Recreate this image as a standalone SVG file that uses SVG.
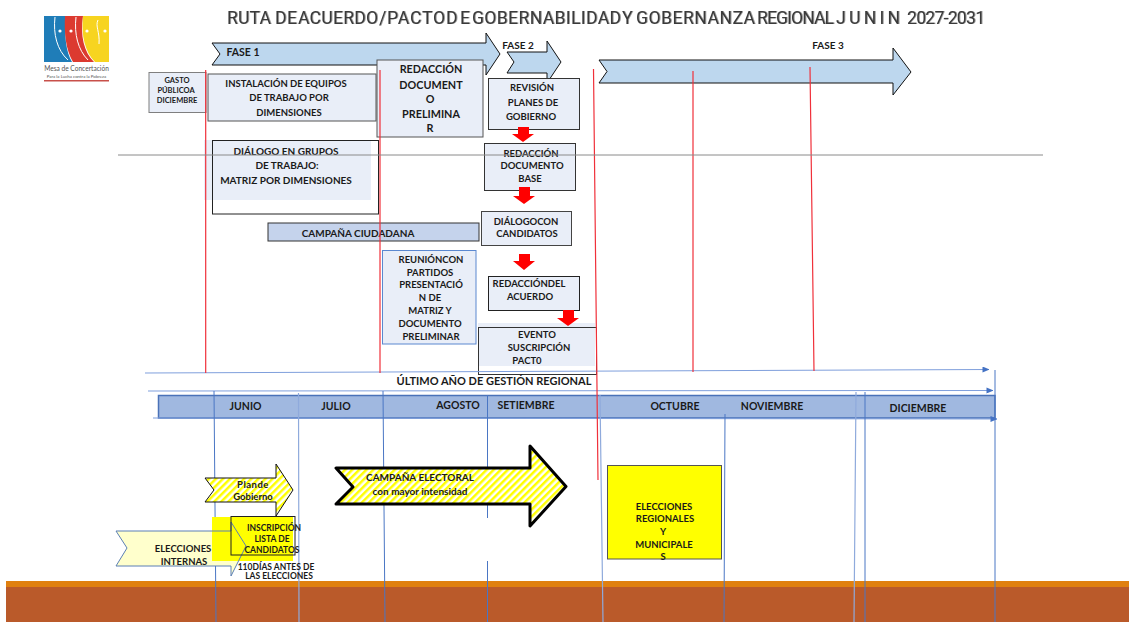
<svg xmlns="http://www.w3.org/2000/svg" width="1129" height="622" viewBox="0 0 1129 622">
<style>
text{font-family:"Lato","Open Sans","Liberation Sans",sans-serif;font-weight:700;fill:#1a1a1a;font-size:10px;text-anchor:middle}
.title{font-family:"Roboto","Lato",sans-serif;font-size:17.5px;font-weight:400;fill:#3a3a3a;text-anchor:start;filter:drop-shadow(1.5px .5px .6px #a0a0a0)}
.box{fill:#E9EEF8;stroke:#404040;stroke-width:1}
.phase{fill:#BDD7EE;stroke:#111;stroke-width:1}
.red{fill:#FF0000;stroke:none}
.rl{stroke:#F0303A;stroke-width:1.2;fill:none}
.bl{stroke:#4A76C4;stroke-width:1;fill:none}
.bll{stroke:#8FAADC;stroke-width:1.2;fill:none}
.m{font-size:10.5px}
</style>
<defs>
<pattern id="hatch" width="5" height="5" patternUnits="userSpaceOnUse" patternTransform="rotate(-45)">
<rect width="5" height="5" fill="#fff"/><rect width="5" height="2.500" fill="#FFFF00"/>
</pattern>
<marker id="ah" markerWidth="7" markerHeight="6" refX="6.5" refY="3" orient="auto" markerUnits="userSpaceOnUse"><path d="M0 0L7 3L0 6z" fill="#4472C4"/></marker>
</defs>
<rect width="1129" height="622" fill="#fff"/>
<g id="band"><rect x="6" y="581" width="1123" height="6" fill="#E0800F"/><rect x="6" y="587" width="1123" height="35" fill="#BA5A2A"/></g>
<g id="logo">
<path d="M44 16H66C64 36 66 52 72 62H44z" fill="#1F7DB8"/>
<path d="M65 16H83C80 36 84 52 94 62H73C66 50 64 34 65 16z" fill="#DC3A30"/>
<path d="M83 16H109V62H95C85 52 81 36 83 16z" fill="#F7D420"/>
<path d="M55 17C53 34 57 50 68 60M76 17C74 34 78 50 88 60M98 20C95 26 100 32 99 44" stroke="#fff" stroke-width="1" fill="none"/>
<circle cx="60" cy="31" r="1.6" fill="#fff"/><circle cx="71" cy="31" r="1.6" fill="#fff"/><circle cx="87" cy="31" r="1.6" fill="#fff"/><circle cx="105" cy="31" r="1.6" fill="#fff"/>
<text x="76.500" y="71" style="font-size:6.600px;font-weight:400;fill:#555">Mesa de Concertación</text>
<text x="76.500" y="77.500" style="font-size:4.400px;font-weight:400;fill:#555">Para la Lucha contra la Pobreza</text>
<rect x="44" y="80" width="65" height="1.500" fill="#C8504A"/>
</g>
<g id="title">
<text class="title" x="227" y="23.500" textLength="44" lengthAdjust="spacing">RUTA</text>
<text class="title" x="275" y="23.500" textLength="22" lengthAdjust="spacing">DE</text>
<text class="title" x="298" y="23.500" textLength="80" lengthAdjust="spacing">ACUERDO</text>
<text class="title" x="379" y="23.500">/</text>
<text class="title" x="387" y="23.500" textLength="58" lengthAdjust="spacing">PACTO</text>
<text class="title" x="446" y="23.500" textLength="24" lengthAdjust="spacing">DE</text>
<text class="title" x="472" y="23.500" textLength="149" lengthAdjust="spacing">GOBERNABILIDAD</text>
<text class="title" x="622" y="23.500">Y</text>
<text class="title" x="636" y="23.500" textLength="119" lengthAdjust="spacing">GOBERNANZA</text>
<text class="title" x="757" y="23.500" textLength="77" lengthAdjust="spacing">REGIONAL</text>
<text class="title" x="836" y="23.500" textLength="64" lengthAdjust="spacing">JUNIN</text>
<text class="title" x="907" y="23.500" textLength="78" lengthAdjust="spacing">2027-2031</text>
</g>
<g id="fase1"><path class="phase" d="M212 43H486V33L500 54L486 75V65H212L220 54z"/><text x="243" y="56" style="font-size:10.500px">FASE  1</text></g>
<g id="fase2"><path class="phase" d="M507 52H547V41L561 62L547 83V73H507L514 62z"/><text x="518" y="49" style="font-size:10px">FASE  2</text></g>
<g id="fase3"><path class="phase" d="M599 60H893V48L911 72L893 95V83H599L607 71.500z"/><text x="828" y="49" style="font-size:10px">FASE  3</text></g>
<g id="gasto"><rect class="box" x="149" y="72.500" width="57" height="40" style="stroke:#7F7F7F"/><text style="font-size:7.500px"><tspan x="177" y="83">GASTO</tspan><tspan x="176" y="93">PÚBLICOA</tspan><tspan x="177" y="103">DICIEMBRE</tspan></text></g>
<g id="instalacion"><rect class="box" x="208" y="74" width="168" height="47" style="stroke:#555"/><text style="font-size:9.500px"><tspan x="286" y="87">INSTALACIÓN DE EQUIPOS</tspan><tspan x="289" y="101">DE TRABAJO POR</tspan><tspan x="289" y="116">DIMENSIONES</tspan></text></g>
<g id="preliminar"><rect class="box" x="377" y="60" width="106" height="77" style="stroke:#555"/><text style="font-size:10.800px"><tspan x="431" y="73">REDACCIÓN</tspan><tspan x="431" y="89">DOCUMENT</tspan><tspan x="430" y="103">O</tspan><tspan x="431" y="118">PRELIMINA</tspan><tspan x="430" y="132">R</tspan></text></g>
<g id="revision"><rect class="box" x="488.500" y="78.500" width="91" height="51" style="stroke:#333"/><text style="font-size:9.500px"><tspan x="532" y="91">REVISIÓN</tspan><tspan x="533" y="106">PLANES  DE</tspan><tspan x="531" y="120">GOBIERNO</tspan></text></g>
<g id="base"><rect class="box" x="484.500" y="143.500" width="91" height="47" style="stroke:#333"/><text style="font-size:9.500px"><tspan x="531" y="157">REDACCIÓN</tspan><tspan x="532" y="169">DOCUMENTO</tspan><tspan x="530" y="182">BASE</tspan></text></g>
<g id="dialogo-grupos"><rect x="204" y="140" width="167" height="60" fill="#E9EEF8"/><rect x="212.500" y="140.500" width="166" height="73.500" fill="none" stroke="#222"/><text style="font-size:10px"><tspan x="286" y="155">DIÁLOGO  EN GRUPOS</tspan><tspan x="287" y="169">DE   TRABAJO:</tspan><tspan x="286" y="184">MATRIZ  POR DIMENSIONES</tspan></text></g>
<g id="campana"><rect x="268" y="223" width="211" height="18" fill="#C5D3EC" stroke="#333"/><text x="358" y="237">CAMPAÑA  CIUDADANA</text></g>
<g id="dialogo-candidatos"><rect class="box" x="481.500" y="211.500" width="90" height="34" style="stroke:#444"/><text style="font-size:9.500px"><tspan x="526" y="225">DIÁLOGOCON</tspan><tspan x="527" y="237">CANDIDATOS</tspan></text></g>
<g id="reunion"><rect class="box" x="382.500" y="250.500" width="93.500" height="93.500" style="stroke:#5B88D0"/><text style="font-size:9.500px"><tspan x="431" y="263">REUNIÓNCON</tspan><tspan x="430" y="276">PARTIDOS</tspan><tspan x="431" y="288">PRESENTACIÓ</tspan><tspan x="430" y="301">N DE</tspan><tspan x="430" y="314">MATRIZ Y</tspan><tspan x="430" y="327">DOCUMENTO</tspan><tspan x="431" y="340">PRELIMINAR</tspan></text></g>
<g id="acuerdo"><rect class="box" x="488.500" y="276.500" width="91" height="34" style="stroke:#222"/><text style="font-size:9.500px"><tspan x="529" y="287">REDACCIÓNDEL</tspan><tspan x="530" y="300">ACUERDO</tspan></text></g>
<g id="evento"><rect x="478" y="323" width="117" height="43" fill="#E9EEF8"/><rect x="478.500" y="327.500" width="118" height="47" fill="none" stroke="#333"/><text style="font-size:9.500px"><tspan x="537" y="338">EVENTO</tspan><tspan x="539" y="351">SUSCRIPCIÓN</tspan><tspan x="527" y="364">PACT0</tspan></text></g>
<g id="timebar"><rect x="158.500" y="395.500" width="836.500" height="22.500" fill="#A0B8E0" stroke="#4A72B8" stroke-width="1.500"/>
<text class="m" x="245.500" y="410">JUNIO</text><text class="m" x="336" y="410">JULIO</text><text class="m" x="458" y="409">AGOSTO</text><text class="m" x="526" y="409">SETIEMBRE</text><text class="m" x="675" y="410">OCTUBRE</text><text class="m" x="772" y="410">NOVIEMBRE</text><text class="m" x="918" y="412">DICIEMBRE</text></g>
<text id="ultimo" x="494" y="385" style="font-size:11px">ÚLTIMO  AÑO DE GESTIÓN  REGIONAL</text>
<g id="connectors">
<path class="bl" style="stroke:#7F9FDC" d="M145 373L989 369.500" marker-end="url(#ah)"/>
<path class="bl" style="stroke:#7F9FDC" d="M148 391L993 390.500" marker-end="url(#ah)"/>
<path class="bl" style="stroke:#7F9FDC" d="M153 418L997 419" marker-end="url(#ah)"/>
<path class="rl" d="M205.700 70V373M380 70V373M593.500 69L598 480M693 71V372M810 67L814 371"/>
<path class="bl" d="M214 391L216 622M383 391L385 622M487.500 395V518M487.500 561V622M725 414L724 622M865 392V622M995 370V622"/>
<path class="bll" d="M298.500 393L299 622M600 395L603 622M856 392L854 622"/>
<path d="M118 155H1043" stroke="#8A8A8A" fill="none"/>
<path class="red" d="M518 127H529V134H534L523 142L512 134H518z"/>
<path class="red" d="M519 187H530V196H535L524 204L513 196H519z"/>
<path class="red" d="M519 254H530V261H535L524 270L513 261H519z"/>
<path class="red" d="M563 310H574V318H579L568 326L557 318H563z"/>
</g>
<g id="plan"><path d="M205 478H276V464L293 490L276 516V502H205L214 490z" fill="url(#hatch)" stroke="#111"/><text style="font-size:9.500px"><tspan x="253" y="488" letter-spacing=".5">Plande</tspan><tspan x="253" y="500">Gobierno</tspan></text></g>
<g id="campana-electoral"><path d="M336 468H530V446L566 486.500L530 526V504H336L353 487z" fill="url(#hatch)" stroke="#000" stroke-width="3" stroke-linejoin="round"/><text style="font-size:10px"><tspan x="420" y="481">CAMPAÑA  ELECTORAL</tspan><tspan x="420" y="495">con  mayor intensidad</tspan></text></g>
<g id="internas"><path d="M116 531H231V522L246 546L231 576V566H116L127 548z" fill="#FFFFCC"/><rect x="212" y="517" width="81" height="44" fill="#FFFF00"/><path d="M116 531H231V522L246 546L231 576V566H116L127 548z" fill="none" stroke="#5B7FB5"/><text style="font-size:9.500px"><tspan x="183" y="552">ELECCIONES</tspan><tspan x="184" y="565">INTERNAS</tspan></text></g>
<g id="inscripcion"><rect x="231" y="516.500" width="64" height="38.500" fill="none" stroke="#222"/><text style="font-size:8.500px"><tspan x="274" y="531">INSCRIPCIÓN</tspan><tspan x="272" y="542">LISTA DE</tspan><tspan x="272" y="553">CANDIDATOS</tspan></text></g>
<text id="dias" style="font-size:8.500px"><tspan x="276" y="570">110DÍAS ANTES DE</tspan><tspan x="279" y="579">LAS ELECCIONES</tspan></text>
<g id="regionales"><rect x="607.500" y="465.500" width="114" height="93.500" fill="#FFFF00" stroke="#555"/><text style="font-size:9.500px"><tspan x="664" y="510">ELECCIONES</tspan><tspan x="665" y="522">REGIONALES</tspan><tspan x="663" y="535">Y</tspan><tspan x="664" y="548">MUNICIPALE</tspan><tspan x="663" y="560">S</tspan></text></g>
</svg>
